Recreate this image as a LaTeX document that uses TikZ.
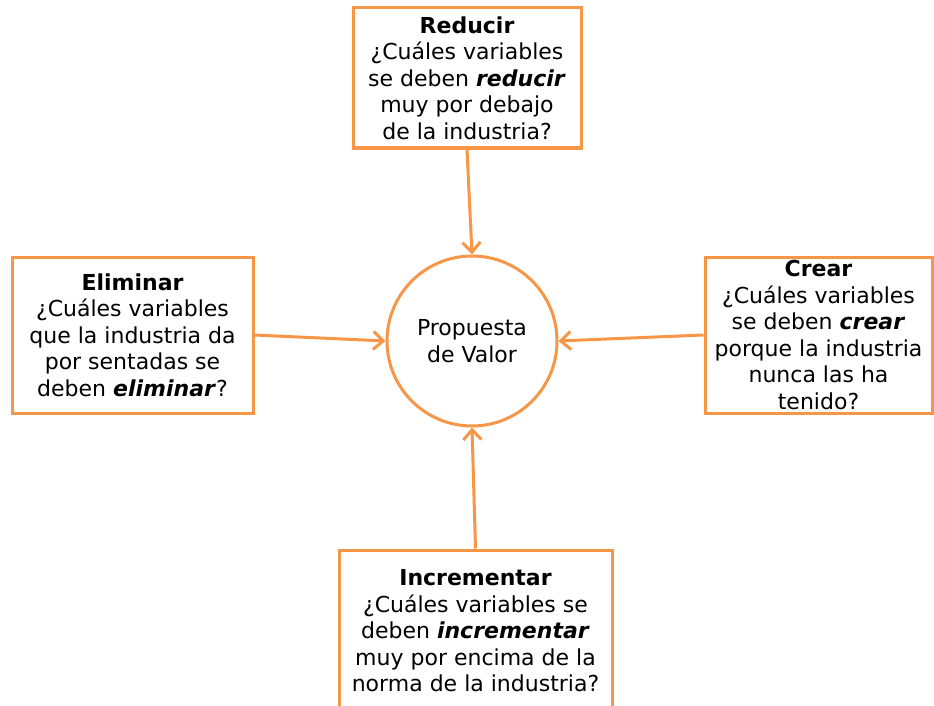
\documentclass[tikz,border=0pt]{standalone}
\usepackage{fontspec}
\setmainfont{DejaVu Sans}
\usepackage{xcolor}
\definecolor{valorange}{RGB}{247,150,70}
\usetikzlibrary{arrows.meta}
\tikzset{
    qbox/.style={draw=valorange, line width=3pt, fill=white, align=center, inner sep=0pt},
    qarrow/.style={draw=valorange, line width=3pt, -{Straight Barb[length=10pt,width=18pt,line width=3pt]}}
}
\begin{document}
\begin{tikzpicture}[x=1pt, y=-1pt]
    \fontsize{22}{26.5}\selectfont
    \useasboundingbox (0, 0) rectangle (934, 706);
    \node[draw=valorange, line width=3pt, circle, minimum size=170pt, align=center] (valor) at (472, 341) {Propuesta\\de Valor};
    \node[qbox, minimum width=228pt, minimum height=140pt] (reducir) at (467, 78)
        {\textbf{Reducir}\\¿Cuáles variables\\se deben \textbf{\textit{reducir}}\\muy por debajo\\de la industria?};
    \node[qbox, minimum width=241pt, minimum height=156pt] (eliminar) at (132.5, 335)
        {\textbf{Eliminar}\\¿Cuáles variables\\que la industria da\\por sentadas se\\deben \textbf{\textit{eliminar}}?};
    \node[qbox, minimum width=227pt, minimum height=156pt] (crear) at (818.5, 335)
        {\textbf{Crear}\\¿Cuáles variables\\se deben \textbf{\textit{crear}}\\porque la industria\\nunca las ha\\tenido?};
    \node[qbox, minimum width=273pt, minimum height=162pt] (incrementar) at (475.5, 631)
        {\textbf{Incrementar}\\¿Cuáles variables se\\deben \textbf{\textit{incrementar}}\\muy por encima de la\\norma de la industria?};
    % arrows into the circle
    \draw[qarrow] (reducir.south) -- (valor.north);
    \draw[qarrow] (eliminar.east) -- (valor.west);
    \draw[qarrow] (crear.west) -- (valor.east);
    \draw[qarrow] (incrementar.north) -- (valor.south);
\end{tikzpicture}
\end{document}
